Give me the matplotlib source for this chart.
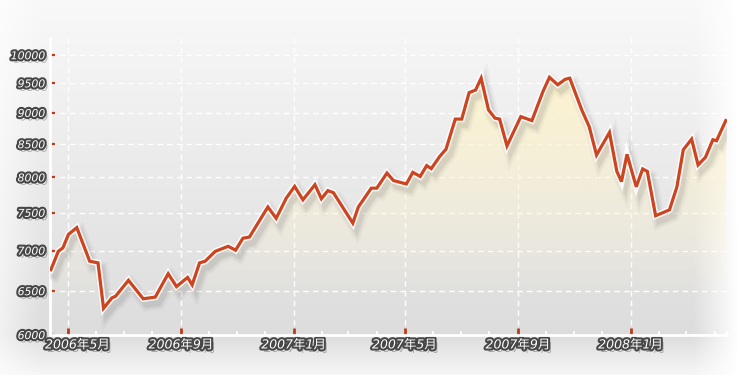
import numpy as np
import pandas as pd
import matplotlib
matplotlib.use("Agg")
import matplotlib.pyplot as plt
import matplotlib.patheffects as pe
from matplotlib.ticker import FixedLocator, NullLocator, NullFormatter
from matplotlib.transforms import ScaledTranslation

# weekly-ish index values
DATES = [
    "2006-04-13", "2006-04-21", "2006-04-26", "2006-05-02", "2006-05-11",
    "2006-05-25", "2006-06-03", "2006-06-09", "2006-06-18", "2006-06-22",
    "2006-07-06", "2006-07-22", "2006-08-04", "2006-08-18", "2006-08-27",
    "2006-09-08", "2006-09-13", "2006-09-21", "2006-09-27", "2006-10-08",
    "2006-10-22", "2006-10-30", "2006-11-07", "2006-11-14", "2006-12-04",
    "2006-12-13", "2006-12-24", "2007-01-02", "2007-01-11", "2007-01-24",
    "2007-01-31", "2007-02-07", "2007-02-13", "2007-03-06", "2007-03-12",
    "2007-03-26", "2007-04-01", "2007-04-12", "2007-04-19", "2007-05-03",
    "2007-05-10", "2007-05-18", "2007-05-25", "2007-05-30", "2007-06-08",
    "2007-06-15", "2007-06-25", "2007-07-02", "2007-07-10", "2007-07-17",
    "2007-07-23", "2007-07-31", "2007-08-07", "2007-08-12", "2007-08-20",
    "2007-09-04", "2007-09-16", "2007-09-28", "2007-10-05", "2007-10-14",
    "2007-10-22", "2007-10-27", "2007-11-09", "2007-11-17", "2007-11-25",
    "2007-12-09", "2007-12-17", "2007-12-22", "2007-12-28", "2008-01-07",
    "2008-01-14", "2008-01-19", "2008-01-28", "2008-02-12", "2008-02-20",
    "2008-02-27", "2008-03-07", "2008-03-14", "2008-03-22", "2008-03-30",
    "2008-04-03", "2008-04-13",
]
VALUES = [
    6760, 6990, 7035, 7210, 7300,
    6865, 6845, 6300, 6420, 6440,
    6630, 6410, 6430, 6710, 6555,
    6665, 6575, 6845, 6865, 6990,
    7055, 7005, 7160, 7175, 7580,
    7425, 7705, 7870, 7680, 7895,
    7695, 7810, 7780, 7360, 7580,
    7845, 7845, 8065, 7955, 7905,
    8075, 8015, 8175, 8130, 8310,
    8425, 8900, 8900, 9340, 9385,
    9590, 9050, 8915, 8900, 8475,
    8940, 8875, 9360, 9605, 9475,
    9570, 9590, 9050, 8780, 8335,
    8685, 8090, 7940, 8345, 7865,
    8125, 8090, 7460, 7540, 7860,
    8415, 8580, 8185, 8300, 8570,
    8555, 8875,
]

Y_TICKS = [6000, 6500, 7000, 7500, 8000, 8500, 9000, 9500, 10000]
X_TICK_DATES = ["2006-05-01", "2006-09-01", "2007-01-01",
                "2007-05-01", "2007-09-01", "2008-01-01"]
X_TICK_LABELS = ["2006年5月", "2006年9月", "2007年1月",
                 "2007年5月", "2007年9月", "2008年1月"]
X_START = "2006-04-12"
X_END = "2008-04-14"

RED = "#cc4420"
TICK_RED = "#c0391b"
CJK = ["DejaVu Sans", "Noto Sans CJK SC"]

dates = pd.to_datetime(DATES)
values = np.array(VALUES, dtype=float)

fig = plt.figure(figsize=(7.5, 3.75), dpi=100)

# soft gray backdrop with white fade at the sides
H, W = 375, 750
yy = np.linspace(0, 1, H)[:, None]
xx = np.linspace(0, 1, W)[None, :]
split = 335 / 375
g = np.where(yy < split, 0.975 - 0.11 * (yy / split),
             0.865 + (yy - split) / (1 - split) * 0.10)
g = np.broadcast_to(g, (H, W)).copy()
fade = np.maximum(np.clip((0.055 - xx) / 0.055, 0, 1) * 0.6,
                  np.clip((xx - 0.925) / 0.06, 0, 1))
g = g + (1 - g) * fade
bg = fig.add_axes([0, 0, 1, 1], zorder=-10)
bg.imshow(np.dstack([g, g, g]), aspect="auto", extent=[0, 1, 0, 1])
bg.axis("off")

ax = fig.add_axes([50 / 750, 1 - 335 / 375, 676.7 / 750, 297 / 375])
ax.set_facecolor("none")
ax.set_yscale("log")
ax.set_ylim(6000, 10320)
ax.set_xlim(pd.Timestamp(X_START), pd.Timestamp(X_END))

# cream glow under the curve
poly = ax.fill_between(dates, values, 6000, color="none", lw=0)
grad = np.linspace(1, 0, 256)[:, None]
cream = np.zeros((256, 2, 4))
cream[..., 0] = 0.99
cream[..., 1] = 0.95
cream[..., 2] = 0.80
cream[..., 3] = np.clip(1.25 * grad - 0.15, 0, 0.9)
im = ax.imshow(cream, aspect="auto", extent=[0, 1, 0, 1],
               transform=ax.transAxes, zorder=1)
im.set_clip_path(poly.get_paths()[0], transform=ax.transData)

# blurred drop shadow made of a few wide faint strokes
shadow = [pe.SimpleLineShadow(offset=(2.5, -4), shadow_color="#444444",
                              alpha=a, linewidth=w)
          for w, a in [(10, 0.04), (7, 0.06), (4.5, 0.08)]]
ax.plot(dates, values, color=RED, lw=2.3, zorder=3, solid_joinstyle="miter",
        path_effects=shadow + [
            pe.Stroke(linewidth=4.6, foreground="white", alpha=0.85),
            pe.Normal(),
        ])

# grid
ax.set_yticks(Y_TICKS)
ax.yaxis.set_minor_locator(NullLocator())
ax.yaxis.set_minor_formatter(NullFormatter())
ax.set_yticklabels([str(v) for v in Y_TICKS])
ax.set_xticks(pd.to_datetime(X_TICK_DATES))
ax.set_xticklabels(X_TICK_LABELS)
minor = list(pd.date_range("2006-05-01", "2008-04-01", freq="MS")) + [pd.Timestamp(X_END)]
ax.xaxis.set_minor_locator(FixedLocator(pd.to_datetime(minor).map(lambda d: d.toordinal() - 719163).tolist()))

ax.grid(True, which="major", color="white", lw=1.0, ls=(0, (4, 3)), zorder=0)
ax.set_axisbelow(True)

for side in ["top", "right"]:
    ax.spines[side].set_visible(False)
for side in ["left", "bottom"]:
    ax.spines[side].set_color("white")
    ax.spines[side].set_linewidth(2)

ax.tick_params(axis="y", which="major", direction="in", length=3.8, width=1.6,
               color=TICK_RED, pad=3.5, labelsize=7.8)
ax.tick_params(axis="x", which="major", direction="in", length=5, width=2,
               color=TICK_RED, pad=2.5, labelsize=9)
ax.tick_params(axis="x", which="minor", direction="in", length=3, width=1.3,
               color="white")

label_fx = [
    pe.SimplePatchShadow(offset=(2, -2.5), shadow_rgbFace="black", alpha=0.28),
    pe.withStroke(linewidth=3.0, foreground="#474747"),
]
for lab in ax.get_yticklabels():
    lab.set_color("white")
    lab.set_fontstyle("italic")
    lab.set_path_effects(label_fx)
for lab in ax.get_xticklabels():
    lab.set_color("white")
    lab.set_fontfamily(CJK)
    lab.set_fontstyle("italic")
    lab.set_path_effects(label_fx)

first = ax.get_xticklabels()[0]
first.set_transform(first.get_transform() + ScaledTranslation(0.1, 0, fig.dpi_scale_trans))

fig.savefig("out.png", dpi=100)
